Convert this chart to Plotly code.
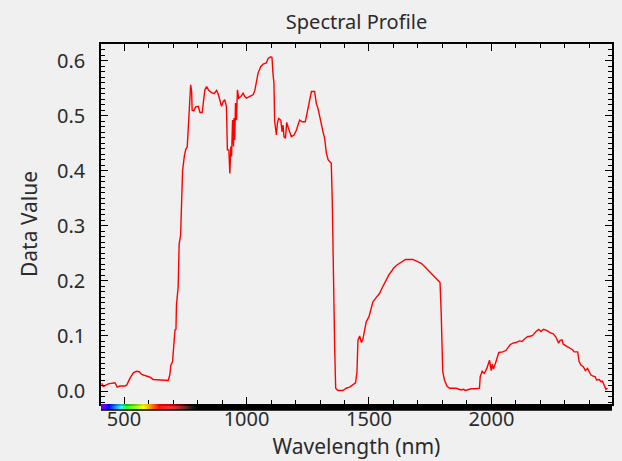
import plotly.graph_objects as go

wavelength = [409, 415, 436, 456, 463, 472, 483, 504, 511, 524, 538, 551, 562, 572, 592, 606, 619, 640, 660, 680,
              687, 691, 698, 701, 708, 712, 714, 721, 725, 731, 735, 739, 746, 752, 758, 765, 772, 776, 778, 785,
              792, 803, 810, 819, 823, 830, 837, 846, 857, 868, 878, 884, 891, 898, 905, 911, 918, 922, 928, 932,
              936, 939, 943, 947, 949, 952, 955, 959, 963, 968, 977, 986, 993, 1000, 1013, 1027, 1034, 1041, 1047, 1058,
              1068, 1081, 1088, 1099, 1104, 1108, 1112, 1115, 1122, 1126, 1131, 1140, 1145, 1149, 1153, 1159, 1164, 1170, 1176, 1183,
              1194, 1204, 1210, 1217, 1227, 1240, 1244, 1251, 1258, 1265, 1278, 1285, 1292, 1299, 1306, 1312, 1319, 1326, 1333, 1339,
              1346, 1350, 1353, 1360, 1364, 1373, 1394, 1407, 1421, 1434, 1445, 1451, 1455, 1462, 1469, 1475, 1482, 1489, 1500, 1509,
              1516, 1530, 1543, 1550, 1560, 1570, 1581, 1591, 1600, 1614, 1632, 1649, 1679, 1695, 1713, 1727, 1740, 1754, 1767, 1777,
              1790, 1795, 1801, 1808, 1818, 1829, 1856, 1876, 1886, 1894, 1903, 1917, 1937, 1951, 1954, 1962, 1971, 1981, 1992, 1999,
              2003, 2008, 2016, 2021, 2030, 2046, 2060, 2066, 2076, 2087, 2100, 2114, 2125, 2134, 2148, 2155, 2168, 2182, 2193, 2202,
              2212, 2225, 2239, 2252, 2263, 2274, 2280, 2288, 2293, 2304, 2318, 2331, 2338, 2352, 2358, 2365, 2375, 2383, 2392, 2399,
              2406, 2415, 2423, 2429, 2440, 2447, 2453, 2460, 2467, 2474]

data_value = [0.014, 0.008, 0.013, 0.014, 0.015, 0.007, 0.009, 0.009, 0.011, 0.023, 0.033, 0.036, 0.035, 0.030, 0.027, 0.025, 0.021, 0.020, 0.019, 0.019,
              0.029, 0.047, 0.053, 0.078, 0.111, 0.112, 0.156, 0.189, 0.267, 0.283, 0.348, 0.400, 0.426, 0.439, 0.443, 0.507, 0.556, 0.544, 0.510, 0.509,
              0.516, 0.517, 0.506, 0.506, 0.526, 0.547, 0.553, 0.546, 0.542, 0.540, 0.546, 0.540, 0.529, 0.517, 0.526, 0.529, 0.517, 0.438, 0.438, 0.395,
              0.444, 0.426, 0.492, 0.444, 0.496, 0.456, 0.523, 0.492, 0.547, 0.532, 0.535, 0.541, 0.535, 0.532, 0.535, 0.538, 0.546, 0.562, 0.577, 0.589,
              0.594, 0.596, 0.604, 0.607, 0.606, 0.577, 0.559, 0.489, 0.465, 0.486, 0.495, 0.492, 0.471, 0.483, 0.462, 0.459, 0.488, 0.479, 0.470, 0.462,
              0.465, 0.474, 0.483, 0.492, 0.489, 0.489, 0.498, 0.513, 0.532, 0.544, 0.544, 0.522, 0.513, 0.501, 0.484, 0.471, 0.459, 0.432, 0.420, 0.417,
              0.414, 0.347, 0.244, 0.075, 0.005, 0.001, 0.001, 0.005, 0.007, 0.011, 0.015, 0.035, 0.093, 0.100, 0.088, 0.094, 0.108, 0.126, 0.135, 0.150,
              0.162, 0.170, 0.177, 0.184, 0.193, 0.202, 0.211, 0.217, 0.223, 0.229, 0.235, 0.239, 0.239, 0.235, 0.232, 0.226, 0.220, 0.214, 0.209, 0.203,
              0.197, 0.138, 0.035, 0.020, 0.009, 0.005, 0.005, 0.002, 0.003, 0.001, 0.002, 0.004, 0.004, 0.005, 0.026, 0.036, 0.032, 0.041, 0.056, 0.037,
              0.049, 0.040, 0.050, 0.056, 0.070, 0.071, 0.074, 0.078, 0.084, 0.087, 0.088, 0.091, 0.090, 0.094, 0.099, 0.099, 0.101, 0.108, 0.112, 0.108,
              0.112, 0.110, 0.106, 0.104, 0.098, 0.087, 0.092, 0.093, 0.085, 0.082, 0.078, 0.075, 0.071, 0.071, 0.053, 0.047, 0.044, 0.037, 0.041, 0.035,
              0.029, 0.027, 0.026, 0.020, 0.021, 0.017, 0.018, 0.011, 0.003, 0.005]

x_ticks = [500, 1000, 1500, 2000]
x_tick_labels = ["500", "1000", "1500", "2000"]
y_ticks = [0.0, 0.1, 0.2, 0.3, 0.4, 0.5, 0.6]
y_tick_labels = ["0.0", "0.1", "0.2", "0.3", "0.4", "0.5", "0.6"]

X_RANGE = [406, 2492]
Y_RANGE = [-0.0236, 0.6303]
BG = "#f0f0f0"
FONT = "Noto Sans"
TXT = "#2b2b2b"


def wl_rgb(w):
    if w < 440:
        r, g, b = (440 - w) / 60.0, 0.0, 1.0
    elif w < 490:
        r, g, b = 0.0, (w - 440) / 50.0, 1.0
    elif w < 510:
        r, g, b = 0.0, 1.0, (510 - w) / 20.0
    elif w < 580:
        r, g, b = (w - 510) / 70.0, 1.0, 0.0
    elif w < 645:
        r, g, b = 1.0, (645 - w) / 65.0, 0.0
    else:
        r, g, b = 1.0, 0.0, 0.0
    if w < 420:
        f = 0.3 + 0.7 * (w - 380) / 40.0
    elif w <= 690:
        f = 1.0
    elif w <= 780:
        f = max(0.0, (780 - w) / 90.0)
    else:
        f = 0.0
    return "rgb(%d,%d,%d)" % (int(255 * r * f), int(255 * g * f), int(255 * b * f))


fig = go.Figure()
fig.add_trace(go.Scatter(x=wavelength, y=data_value, mode="lines",
                         line=dict(color="#ff0000", width=1.4), showlegend=False, hoverinfo="x+y"))
# invisible companion trace so the mirrored tick axes (top/right) are drawn
fig.add_trace(go.Scatter(x=wavelength, y=data_value, mode="lines", xaxis="x2", yaxis="y2",
                         line=dict(color="rgba(0,0,0,0)", width=0), showlegend=False, hoverinfo="skip"))

# spectral colour strip below the plot
bar_h = 6.0 / 360.0
shapes = []
w = X_RANGE[0]
step = 4
while w < 790:
    shapes.append(dict(type="rect", xref="x", yref="paper", x0=w, x1=w + step + 0.5,
                       y0=-bar_h, y1=0, fillcolor=wl_rgb(w + step / 2), line=dict(width=0), layer="above"))
    w += step
shapes.append(dict(type="rect", xref="x", yref="paper", x0=w, x1=X_RANGE[1],
                   y0=-bar_h, y1=0, fillcolor="black", line=dict(width=0), layer="above"))
shapes.append(dict(type="line", xref="paper", yref="paper", x0=0, x1=1, y0=-bar_h, y1=-bar_h,
                   line=dict(color="black", width=1.5), layer="above"))

tick_common = dict(ticks="inside", ticklen=7, tickcolor="black", tickwidth=1, showline=True,
                   linecolor="black", linewidth=1.5, showgrid=False, zeroline=False, automargin=False)

fig.update_layout(
    width=622, height=461, autosize=False,
    paper_bgcolor=BG, plot_bgcolor=BG,
    margin=dict(l=101, r=10, t=44, b=57),
    font=dict(family=FONT, color=TXT, size=20),
    title=dict(text="Spectral Profile", x=0.5732, xanchor="center", y=1 - 22 / 461, yanchor="middle",
               yref="container", font=dict(size=20, color=TXT)),
    shapes=shapes,
    xaxis=dict(range=X_RANGE, tickvals=x_ticks, ticktext=x_tick_labels, tickfont=dict(size=20, color=TXT),
               ticklabelstandoff=-4,
               minor=dict(dtick=100, tick0=0, ticks="inside", ticklen=4, tickcolor="black", showgrid=False),
               title=dict(text="Wavelength (nm)", font=dict(size=21, color=TXT), standoff=0),
               **tick_common),
    yaxis=dict(range=Y_RANGE, tickvals=y_ticks, ticktext=y_tick_labels, tickfont=dict(size=20, color=TXT),
               ticklabelstandoff=10,
               minor=dict(dtick=0.01, tick0=0, ticks="inside", ticklen=4, tickcolor="black", showgrid=False),
               title=dict(text="Data Value", font=dict(size=21, color=TXT), standoff=14),
               **tick_common),
    xaxis2=dict(range=X_RANGE, overlaying="x", side="top", anchor="y", tickvals=x_ticks,
                showticklabels=False,
                minor=dict(dtick=100, tick0=0, ticks="inside", ticklen=4, tickcolor="black", showgrid=False),
                **tick_common),
    yaxis2=dict(range=Y_RANGE, overlaying="y", side="right", anchor="x", tickvals=y_ticks,
                showticklabels=False,
                minor=dict(dtick=0.01, tick0=0, ticks="inside", ticklen=4, tickcolor="black", showgrid=False),
                **tick_common),
)

fig.write_html("out.html", config={"displayModeBar": False},
               post_script="document.body.style.margin='0px';")
